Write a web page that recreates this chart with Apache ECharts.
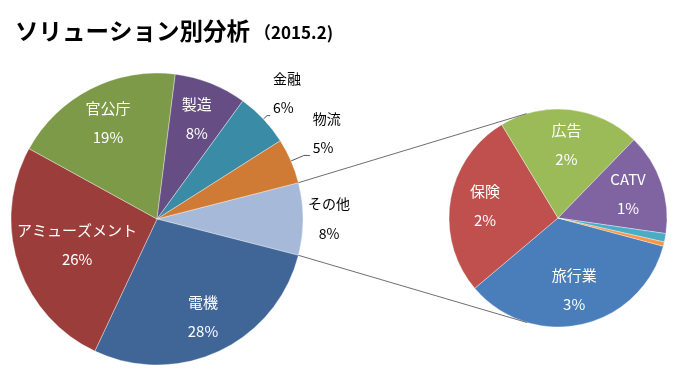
<!DOCTYPE html>
<html><head><meta charset="utf-8">
<script src="https://cdn.jsdelivr.net/npm/echarts@6/dist/echarts.min.js"></script>
<style>html,body{margin:0;padding:0;background:#fff}#c{width:682px;height:380px}</style>
</head><body><div id="c"></div>
<script>
// ---- data ----
const mainCategories = ['その他', '電機', 'アミューズメント', '官公庁', '製造', '金融', '物流'];
const mainValues = [8, 28, 26, 19, 8, 6, 5];
const mainColors = ['#A7B9D8', '#3F6697', '#9B3D3A', '#7D9A48', '#664E85', '#3A8BA5', '#CF7B35'];
const subCategories = ['旅行業', '保険', '広告', 'CATV', 'その他1', 'その他2'];
const subValues = [2.77, 2.2, 1.67, 1.2, 0.1, 0.05];
const subColors = ['#4A7EBB', '#C0504D', '#9BBB59', '#8064A2', '#4BACC6', '#F79646'];
const insideFar = ['電機', '官公庁', '製造'];
const insideNear = ['アミューズメント'];
const outsideLined = ['金融', '物流'];
const outsidePlain = ['その他'];
const subLabeled = ['旅行業', '保険', '広告', 'CATV'];

// ---- layout ----
const FONT = '"Noto Sans CJK JP", "Noto Sans", sans-serif';
const L = { cx: 157, cy: 219, r: 146 };
const R = { cx: 558, cy: 218, r: 109 };
const total = mainValues.reduce((a, b) => a + b, 0);
const halfOther = mainValues[0] / total * 180;
const SUB_START = -15;

const pctFmt = p => p.name + '\n' + Math.round(p.value) + '%';

const leaderLen = { '金融': [5, 3], '物流': [14, 6] };

const mainData = mainCategories.map((n, i) => {
  const d = { name: n, value: mainValues[i], itemStyle: { color: mainColors[i] } };
  if (outsideLined.includes(n)) {
    d.label = { show: true, position: 'outside', distanceToLabelLine: 3,
      formatter: '{n|{b}}\n{v|{c}%}',
      rich: { n: { fontSize: 14, lineHeight: 42, color: '#000', fontFamily: FONT },
              v: { fontSize: 14, lineHeight: 16, color: '#000', fontFamily: FONT } } };
    d.labelLine = { show: true, length: leaderLen[n][0], length2: leaderLen[n][1],
      lineStyle: { color: '#595959', width: 1 } };
  } else if (outsidePlain.includes(n)) {
    d.label = { show: true, position: 'outside', distanceToLabelLine: 4,
      formatter: '{n|{b}}\n{v|{c}%}',
      rich: { n: { fontSize: 14, lineHeight: 30, width: 44, align: 'center', color: '#000', fontFamily: FONT },
              v: { fontSize: 14, lineHeight: 30, width: 44, align: 'center', color: '#000', fontFamily: FONT } } };
    d.labelLine = { show: false, length: 0, length2: 0 };
  }
  return d;
});

function overlay(center, r, r0, names, cats, vals, start) {
  return {
    type: 'pie', center: center, radius: [r0, r], startAngle: start, clockwise: true,
    silent: true, avoidLabelOverlap: false, animation: false, z: 5,
    itemStyle: { color: 'rgba(0,0,0,0)', borderWidth: 0 },
    labelLine: { show: false },
    emphasis: { disabled: true },
    data: cats.map((n, i) => ({ name: n, value: vals[i],
      label: { show: names.includes(n) } })),
    label: { position: 'inside', formatter: pctFmt, color: '#fff', fontSize: 15,
      lineHeight: 29, fontFamily: FONT }
  };
}

// connector lines: tangents from the "その他" slice ends to the sub pie
function tangentPoint(px, py, upper) {
  const dx = px - R.cx, dy = -(py - R.cy);
  const d = Math.sqrt(dx * dx + dy * dy);
  const th = Math.atan2(dy, dx);
  const a = Math.acos(R.r / d);
  const phi = upper ? th - a : th + a;
  return [R.cx + R.r * Math.cos(phi), R.cy - R.r * Math.sin(phi)];
}
const hr = halfOther * Math.PI / 180;
const pTop = [L.cx + L.r * Math.cos(hr), L.cy - L.r * Math.sin(hr)];
const pBot = [L.cx + L.r * Math.cos(hr), L.cy + L.r * Math.sin(hr)];
const tTop = tangentPoint(pTop[0], pTop[1], true);
const tBot = tangentPoint(pBot[0], pBot[1], false);

const chart = echarts.init(document.getElementById('c'), null, { renderer: 'canvas' });
chart.setOption({
  animation: false,
  backgroundColor: '#fff',
  title: {
    left: 10, top: 14,
    text: '{a|ソリューション別分析}{b|（2015.2)}',
    textStyle: { rich: {
      a: { fontSize: 23.5, fontWeight: 'bold', color: '#000', fontFamily: FONT },
      b: { fontSize: 17, fontWeight: 'bold', color: '#000', fontFamily: FONT, padding: [4, 0, 0, 4] }
    } }
  },
  graphic: [
    { type: 'line', z: 10, shape: { x1: pTop[0], y1: pTop[1], x2: tTop[0], y2: tTop[1] },
      style: { stroke: '#6f6f6f', lineWidth: 1 } },
    { type: 'line', z: 10, shape: { x1: pBot[0], y1: pBot[1], x2: tBot[0], y2: tBot[1] },
      style: { stroke: '#6f6f6f', lineWidth: 1 } }
  ],
  series: [
    {
      type: 'pie', center: [L.cx, L.cy], radius: L.r, startAngle: halfOther, clockwise: true,
      avoidLabelOverlap: false, emphasis: { disabled: true },
      itemStyle: { borderColor: 'rgba(255,255,255,0.6)', borderWidth: 0.6 },
      label: { show: false }, labelLine: { show: false },
      labelLayout: function (p) {
        if (p.seriesIndex === 0 && outsideLined.includes(mainCategories[p.dataIndex])) {
          return { verticalAlign: 'bottom' };
        }
        return {};
      },
      data: mainData
    },
    overlay([L.cx, L.cy], L.r, 64, insideFar, mainCategories, mainValues, halfOther),
    overlay([L.cx, L.cy], L.r, 16, insideNear, mainCategories, mainValues, halfOther),
    {
      type: 'pie', center: [R.cx, R.cy], radius: R.r, startAngle: SUB_START, clockwise: true,
      avoidLabelOverlap: false, emphasis: { disabled: true },
      itemStyle: { borderColor: 'rgba(255,255,255,0.6)', borderWidth: 0.6 },
      label: { show: false }, labelLine: { show: false },
      data: subCategories.map((n, i) => ({ name: n, value: subValues[i], itemStyle: { color: subColors[i] } }))
    },
    overlay([R.cx, R.cy], R.r, 33, subLabeled, subCategories, subValues, SUB_START)
  ]
});
</script>
</body></html>
